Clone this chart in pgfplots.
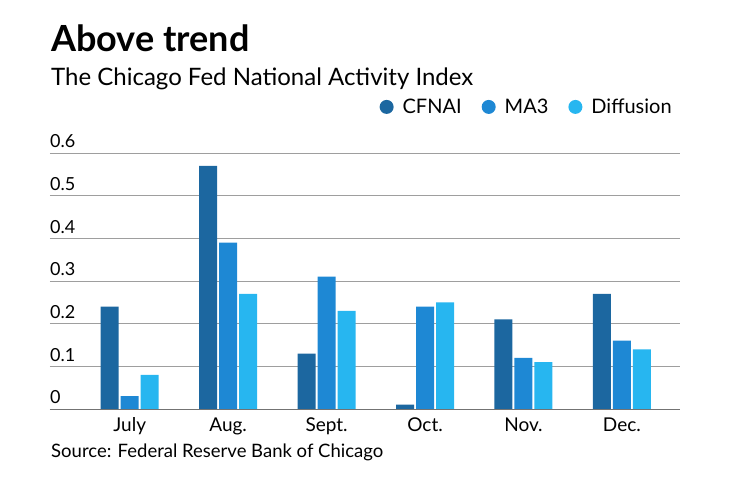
\documentclass[border=0pt]{standalone}
\usepackage{fontspec}
\setmainfont{Lato}
\usepackage{pgfplots}
\pgfplotsset{compat=1.18}

\definecolor{cfnai}{HTML}{1C67A0}
\definecolor{mathree}{HTML}{1E88D4}
\definecolor{diffusion}{HTML}{27B6F0}
\definecolor{gridgray}{HTML}{9E9E9E}

\begin{document}
\begin{tikzpicture}[x=1pt,y=1pt]
\useasboundingbox (0,0) rectangle (740,482);

\node[anchor=base west, inner sep=0pt, font=\fontsize{36}{40}\selectfont\bfseries] at (51,430) {Above trend};
\node[anchor=base west, inner sep=0pt, font=\fontsize{24}{28}\selectfont] at (51,396) {The Chicago Fed National Activity Index};
\node[anchor=base west, inner sep=0pt, font=\fontsize{18.5}{21}\selectfont] at (51,24) {Source: Federal Reserve Bank of Chicago};

\begin{axis}[
  at={(50pt,73pt)}, anchor=south west,
  scale only axis,
  width=630pt, height=256pt,
  xmin=-0.81, xmax=5.59,
  ymin=0, ymax=0.6,
  ybar=2pt,
  bar width=18pt,
  axis x line*=bottom,
  axis y line*=left,
  y axis line style={draw=none},
  x axis line style={-, draw=black!55, line width=0.8pt},
  xtick=data,
  xticklabels={July, Aug., Sept., Oct., Nov., Dec.},
  xtick style={draw=none},
  xticklabel style={font=\fontsize{19}{21}\selectfont, yshift=-1pt},
  ytick={0,0.1,...,0.6},
  ytick style={draw=none},
  ymajorgrids,
  grid style={gridgray, line width=0.8pt},
  yticklabel style={anchor=base west, inner sep=0pt, xshift=0pt, yshift=5pt, font=\fontsize{18}{20}\selectfont},
  /pgf/number format/assume math mode=true,
  yticklabel={\pgfmathprintnumber[fixed, precision=1]{\tick}},
  legend columns=-1,
  legend style={draw=none, fill=none, at={(0.995,1.18)}, anchor=east,
    font=\fontsize{20}{22}\selectfont,
    /tikz/every odd column/.append style={column sep=7pt},
    /tikz/every even column/.append style={column sep=18pt}},
  legend image code/.code={\fill (0pt,0pt) circle (7pt);},
]
\addplot[fill=cfnai, draw=none] coordinates {
  (0,0.24) (1,0.57) (2,0.13) (3,0.01) (4,0.21) (5,0.27)
};
\addplot[fill=mathree, draw=none] coordinates {
  (0,0.03) (1,0.39) (2,0.31) (3,0.24) (4,0.12) (5,0.16)
};
\addplot[fill=diffusion, draw=none] coordinates {
  (0,0.08) (1,0.27) (2,0.23) (3,0.25) (4,0.11) (5,0.14)
};
\legend{CFNAI, MA3, Diffusion}
\end{axis}
\end{tikzpicture}
\end{document}
